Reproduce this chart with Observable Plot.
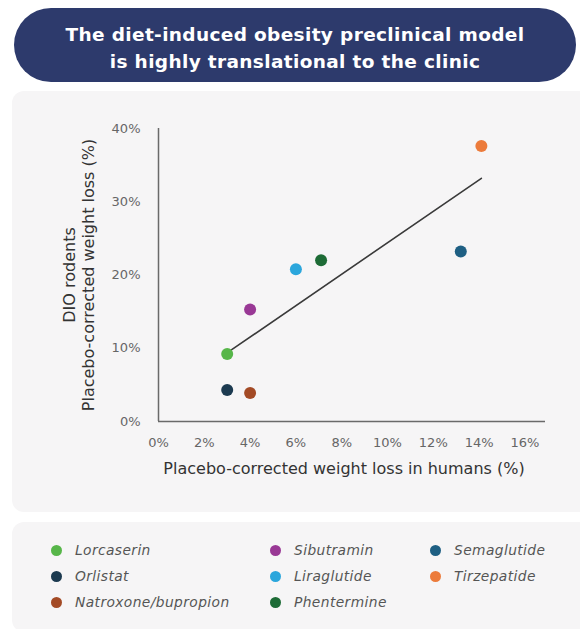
<!DOCTYPE html>
<html>
<head>
<meta charset="utf-8">
<script src="https://cdn.jsdelivr.net/npm/d3@7"></script>
<script src="https://cdn.jsdelivr.net/npm/@observablehq/plot@0.6"></script>
<style>
  html, body { margin: 0; padding: 0; background: #ffffff; }
  body { width: 580px; height: 629px; position: relative; overflow: hidden; font-family: "DejaVu Sans", sans-serif; }
  #title {
    position: absolute; left: 14px; top: 8px; width: 562px; height: 69px; padding-top: 5px;
    background: #2d3a6c; border-radius: 37px; color: #ffffff;
    font-weight: 700; font-size: 18.5px; line-height: 27px; text-align: center; letter-spacing: 0.35px;
    display: flex; align-items: center; justify-content: center;
  }
  #panel {
    position: absolute; left: 12px; top: 91px; width: 580px; height: 421px;
    background: #f6f5f6; border-radius: 12px;
  }
  #chart { position: absolute; left: 0; top: 91px; }
  #legendPanel {
    position: absolute; left: 12px; top: 522px; width: 580px; height: 110px;
    background: #f6f5f6; border-radius: 12px;
  }
  .leg { position: absolute; font-style: italic; font-size: 13.8px; color: #555; white-space: nowrap; letter-spacing: 0.4px; }
  .leg .dot { position: absolute; left: -24px; top: 3px; width: 11px; height: 11px; border-radius: 50%; }
</style>
</head>
<body>
<div id="title">The diet-induced obesity preclinical model<br>is highly translational to the clinic</div>
<div id="panel"></div>
<div id="chart"></div>
<div id="legendPanel"></div>
<script>
// Data
const drugs  = ["Lorcaserin", "Orlistat", "Natroxone/bupropion", "Sibutramin", "Liraglutide", "Phentermine", "Semaglutide", "Tirzepatide"];
const human  = [3.0, 3.0, 4.0, 4.0, 6.0, 7.1, 13.2, 14.1];      // % weight loss in humans
const rodent = [9.2, 4.3, 3.9, 15.3, 20.8, 22.0, 23.2, 37.6];   // % weight loss in DIO rodents
const colors = ["#57b649", "#1c3a50", "#a34a25", "#993895", "#2ba6dc", "#1d6b36", "#1e5f83", "#ec7b3b"];
const trendX = [3.15, 14.1];
const trendY = [9.7, 33.2];
const xTicks = [0, 2, 4, 6, 8, 10, 12, 14, 16];
const yTicks = [0, 10, 20, 30, 40];

const points = drugs.map((d, i) => ({drug: d, x: human[i], y: rodent[i], color: colors[i]}));
const trend = trendX.map((x, i) => ({x, y: trendY[i]}));

const font = "'DejaVu Sans', sans-serif";
const plot = Plot.plot({
  width: 580,
  height: 421,
  marginLeft: 158,
  marginRight: 35,
  marginTop: 37,
  marginBottom: 91,
  style: {background: "transparent", fontFamily: font, fontSize: "12px", color: "#666"},
  x: {domain: [0, 16.9], ticks: xTicks, tickFormat: d => d + "%"},
  y: {domain: [0, 40], ticks: yTicks, tickFormat: d => d + "%"},
  color: {type: "identity"},
  marks: [
    Plot.axisX({ticks: xTicks, tickFormat: d => d + "%", tickSize: 0, tickPadding: 16, label: null, fill: "#666", fontSize: 13, style: {letterSpacing: "0.4px"}}),
    Plot.axisY({ticks: yTicks, tickFormat: d => d + "%", tickSize: 0, tickPadding: 18, label: null, fill: "#666", fontSize: 13, style: {letterSpacing: "0.4px"}}),
    Plot.ruleY([0], {stroke: "#6a6a6a", strokeWidth: 1.5}),
    Plot.ruleX([0], {stroke: "#6a6a6a", strokeWidth: 1.5}),
    Plot.line(trend, {x: "x", y: "y", stroke: "#3a3a3a", strokeWidth: 1.6}),
    Plot.dot(points, {x: "x", y: "y", r: 6, fill: "color", stroke: "none"}),
    Plot.text(["Placebo-corrected weight loss in humans (%)"], {frameAnchor: "bottom", text: d => d, dy: 47, dx: -8, fontSize: 16, fill: "#333", lineAnchor: "middle", textAnchor: "middle", style: {letterSpacing: "1.3px"}}),
    Plot.text(["DIO rodents\nPlacebo-corrected weight loss (%)"], {frameAnchor: "left", text: d => d, rotate: -90, dx: -80, dy: 0, fontSize: 16, fill: "#333", lineAnchor: "middle", textAnchor: "middle", lineHeight: 1.15, style: {letterSpacing: "1.3px"}})
  ]
});
document.getElementById("chart").appendChild(plot);

// Legend built from the same arrays
const colX = [75, 294, 454];
const rowY = [542, 568, 594];
const layout = [[0,0],[0,1],[0,2],[1,0],[1,1],[1,2],[2,0],[2,1]];
drugs.forEach((d, i) => {
  const [c, r] = layout[i];
  const el = document.createElement("div");
  el.className = "leg";
  el.style.left = colX[c] + "px";
  el.style.top = rowY[r] + "px";
  const dot = document.createElement("span");
  dot.className = "dot";
  dot.style.background = colors[i];
  el.appendChild(dot);
  el.appendChild(document.createTextNode(d));
  document.body.appendChild(el);
});
</script>
</body>
</html>
